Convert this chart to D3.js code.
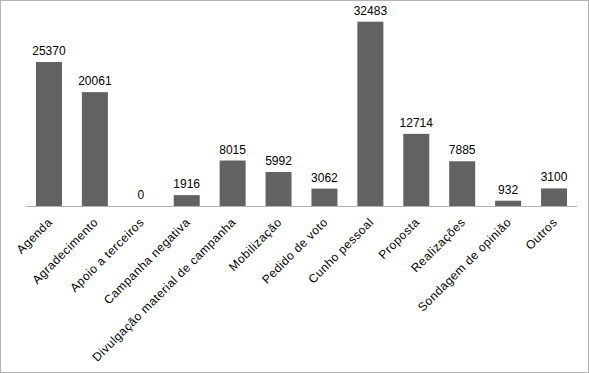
<!DOCTYPE html>
<html><head><meta charset="utf-8">
<script src="https://cdn.jsdelivr.net/npm/d3@7"></script>
<style>body{margin:0;background:#fff}svg{display:block}</style>
</head><body>
<script>
const categories = ["Agenda","Agradecimento","Apoio a terceiros","Campanha negativa","Divulgação material de campanha","Mobilização","Pedido de voto","Cunho pessoal","Proposta","Realizações","Sondagem de opinião","Outros"];
const values = [25370,20061,0,1916,8015,5992,3062,32483,12714,7885,932,3100];

const W = 589, H = 373;
const svg = d3.select("body").append("svg").attr("width", W).attr("height", H);
svg.append("rect").attr("x",0.5).attr("y",0.5).attr("width",W-1).attr("height",H-1)
  .attr("fill","#fff").attr("stroke","#b3b3b3");

const x = d3.scaleBand().domain(categories).range([26, 577]).paddingInner(0.434).paddingOuter(0.217);
const y = d3.scaleLinear().domain([0, 35000]).range([206, 7.4]);

svg.selectAll("rect.bar").data(values).join("rect").attr("class","bar")
  .attr("x",(d,i)=>x(categories[i])).attr("width",x.bandwidth())
  .attr("y",d=>y(d)).attr("height",d=>y(0)-y(d)).attr("fill","#626262");

svg.append("line").attr("x1",26).attr("x2",577).attr("y1",206.5).attr("y2",206.5)
  .attr("stroke","#b3b3b3").attr("stroke-width",1);

svg.selectAll("text.val").data(values).join("text").attr("class","val")
  .attr("x",(d,i)=>x(categories[i])+x.bandwidth()/2).attr("y",d=>y(d)-7)
  .attr("text-anchor","middle").attr("font-family","Liberation Sans, Arial, sans-serif")
  .attr("font-size",12).attr("fill","#000").text(d=>d);

svg.selectAll("text.cat").data(categories).join("text").attr("class","cat")
  .attr("transform",(d)=>`translate(${x(d)+x.bandwidth()/2+4},${223}) rotate(-45)`)
  .attr("text-anchor","end").attr("font-family","Liberation Sans, Arial, sans-serif")
  .attr("letter-spacing","0.5px")
  .attr("font-size",12).attr("fill","#000").text(d=>d);
</script>
</body></html>
